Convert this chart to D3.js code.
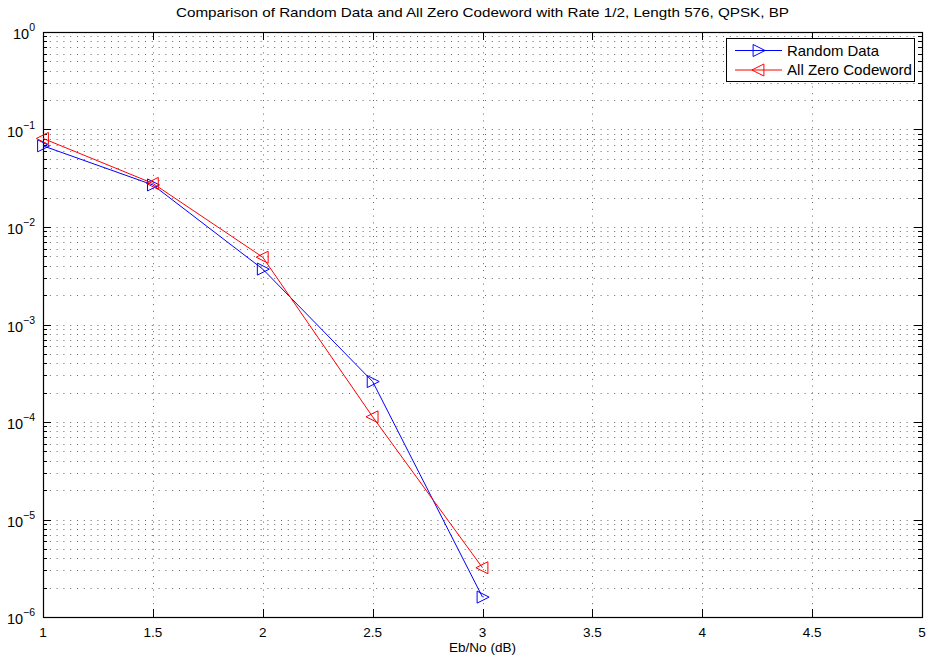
<!DOCTYPE html>
<html>
<head>
<meta charset="utf-8">
<script src="https://cdn.jsdelivr.net/npm/d3@7"></script>
<style>
  html, body { margin: 0; padding: 0; background: #fff; }
  svg { display: block; font-family: Arial, "Liberation Sans", Helvetica, sans-serif; }
</style>
</head>
<body>
<svg id="chart" width="927" height="659"></svg>
<script>
// Eb/No points (dB)
const ebno = [1, 1.5, 2, 2.5, 3];
// Bit error rate, random data
const berRandom = [0.068, 0.027, 0.0037, 0.00026, 1.6e-6];
// Bit error rate, all zero codeword
const berZero = [0.081, 0.028, 0.0049, 0.000113, 3.2e-6];
const seriesNames = ["Random Data", "All Zero Codeword"];
const xTicks = [1, 1.5, 2, 2.5, 3, 3.5, 4, 4.5, 5];
const yExps = [0, -1, -2, -3, -4, -5, -6];

const svg = d3.select("#chart");
const L = 43, R = 922, T = 32, B = 617;

const x = d3.scaleLinear().domain([1, 5]).range([L, R]);
const y = d3.scaleLog().domain([1e-6, 1]).range([B, T]);

const g = svg.append("g");

// grid: major x, major + minor y (dotted)
const minorY = [];
for (let e = -6; e < 0; e++) for (let m = 1; m <= 9; m++) minorY.push(m * Math.pow(10, e));
minorY.push(1);

const grid = g.append("g").attr("stroke", "#666").attr("stroke-width", 1)
  .attr("stroke-dasharray", "1,5.8").attr("fill", "none");
xTicks.slice(1, -1).forEach(v => {
  grid.append("line").attr("x1", Math.round(x(v)) + 0.5).attr("x2", Math.round(x(v)) + 0.5)
    .attr("y1", T).attr("y2", B);
});
minorY.filter(v => v > 1e-6 && v < 1).forEach(v => {
  grid.append("line").attr("x1", L).attr("x2", R)
    .attr("y1", Math.round(y(v)) + 0.5).attr("y2", Math.round(y(v)) + 0.5);
});

// ticks on all four sides (inward)
const ticks = g.append("g").attr("stroke", "#000").attr("stroke-width", 1);
xTicks.forEach(v => {
  const xx = Math.round(x(v)) + 0.5;
  ticks.append("line").attr("x1", xx).attr("x2", xx).attr("y1", B).attr("y2", B - 8);
  ticks.append("line").attr("x1", xx).attr("x2", xx).attr("y1", T).attr("y2", T + 8);
});
minorY.forEach(v => {
  const major = yExps.some(e => Math.abs(Math.log10(v) - e) < 1e-9);
  const len = major ? 8 : 4;
  const yy = Math.round(y(v)) + 0.5;
  ticks.append("line").attr("x1", L).attr("x2", L + len).attr("y1", yy).attr("y2", yy);
  ticks.append("line").attr("x1", R).attr("x2", R - len).attr("y1", yy).attr("y2", yy);
});

// box
g.append("rect").attr("x", L + 0.5).attr("y", T + 0.5).attr("width", R - L).attr("height", B - T)
  .attr("fill", "none").attr("stroke", "#000").attr("stroke-width", 1.2);

// x tick labels
g.append("g").selectAll("text").data(xTicks).join("text")
  .attr("x", d => x(d)).attr("y", B + 20).attr("text-anchor", "middle")
  .attr("font-size", 13.5).attr("fill", "#000").text(d => d);

// y tick labels 10^e
const yl = g.append("g");
yExps.forEach(e => {
  const t = yl.append("text").attr("x", 35).attr("y", y(Math.pow(10, e)) + 7)
    .attr("text-anchor", "end").attr("font-size", 14.5).attr("fill", "#000");
  t.append("tspan").text("10");
  t.append("tspan").attr("dy", -8).attr("font-size", 10.5).text(e === 0 ? "0" : "\u2212" + Math.abs(e));
});

// title and axis label
svg.append("text").attr("x", (L + R) / 2).attr("y", 17).attr("text-anchor", "middle")
  .attr("font-size", 13.5).attr("fill", "#000")
  .attr("textLength", 613).attr("lengthAdjust", "spacingAndGlyphs")
  .text("Comparison of Random Data and All Zero Codeword with Rate 1/2, Length 576, QPSK, BP");
svg.append("text").attr("x", (L + R) / 2).attr("y", 652).attr("text-anchor", "middle")
  .attr("font-size", 13.5).attr("fill", "#000").text("Eb/No (dB)");

// markers
const triRight = s => `M${-s * 0.45},${-s / 2}L${s * 0.55},0L${-s * 0.45},${s / 2}Z`;
const triLeft = s => `M${s * 0.45},${-s / 2}L${-s * 0.55},0L${s * 0.45},${s / 2}Z`;

const line = d3.line().x(d => x(d[0])).y(d => y(d[1]));
const series = [
  { name: seriesNames[0], vals: berRandom, color: "#0000ff", marker: triRight, len: 92 },
  { name: seriesNames[1], vals: berZero, color: "#ff0000", marker: triLeft, len: 125 }
];

series.forEach(s => {
  const pts = ebno.map((v, i) => [v, s.vals[i]]);
  g.append("path").attr("d", line(pts)).attr("fill", "none")
    .attr("stroke", s.color).attr("stroke-width", 1);
  g.append("g").selectAll("path").data(pts).join("path")
    .attr("transform", d => `translate(${x(d[0])},${y(d[1])})`)
    .attr("d", s.marker(12)).attr("fill", "none").attr("stroke", s.color).attr("stroke-width", 1);
});

// legend
const lg = svg.append("g");
lg.append("rect").attr("x", 726.5).attr("y", 38.5).attr("width", 188).attr("height", 43)
  .attr("fill", "#fff").attr("stroke", "#000").attr("stroke-width", 1);
series.forEach((s, i) => {
  const yy = 50.5 + i * 19.5;
  lg.append("line").attr("x1", 735).attr("x2", 782).attr("y1", yy).attr("y2", yy)
    .attr("stroke", s.color).attr("stroke-width", 1);
  lg.append("path").attr("transform", `translate(758.5,${yy})`).attr("d", s.marker(12))
    .attr("fill", "none").attr("stroke", s.color).attr("stroke-width", 1);
  lg.append("text").attr("x", 787).attr("y", yy + 5).attr("font-size", 14.5).attr("fill", "#000")
    .attr("textLength", s.len).attr("lengthAdjust", "spacingAndGlyphs").text(s.name);
});
</script>
</body>
</html>
